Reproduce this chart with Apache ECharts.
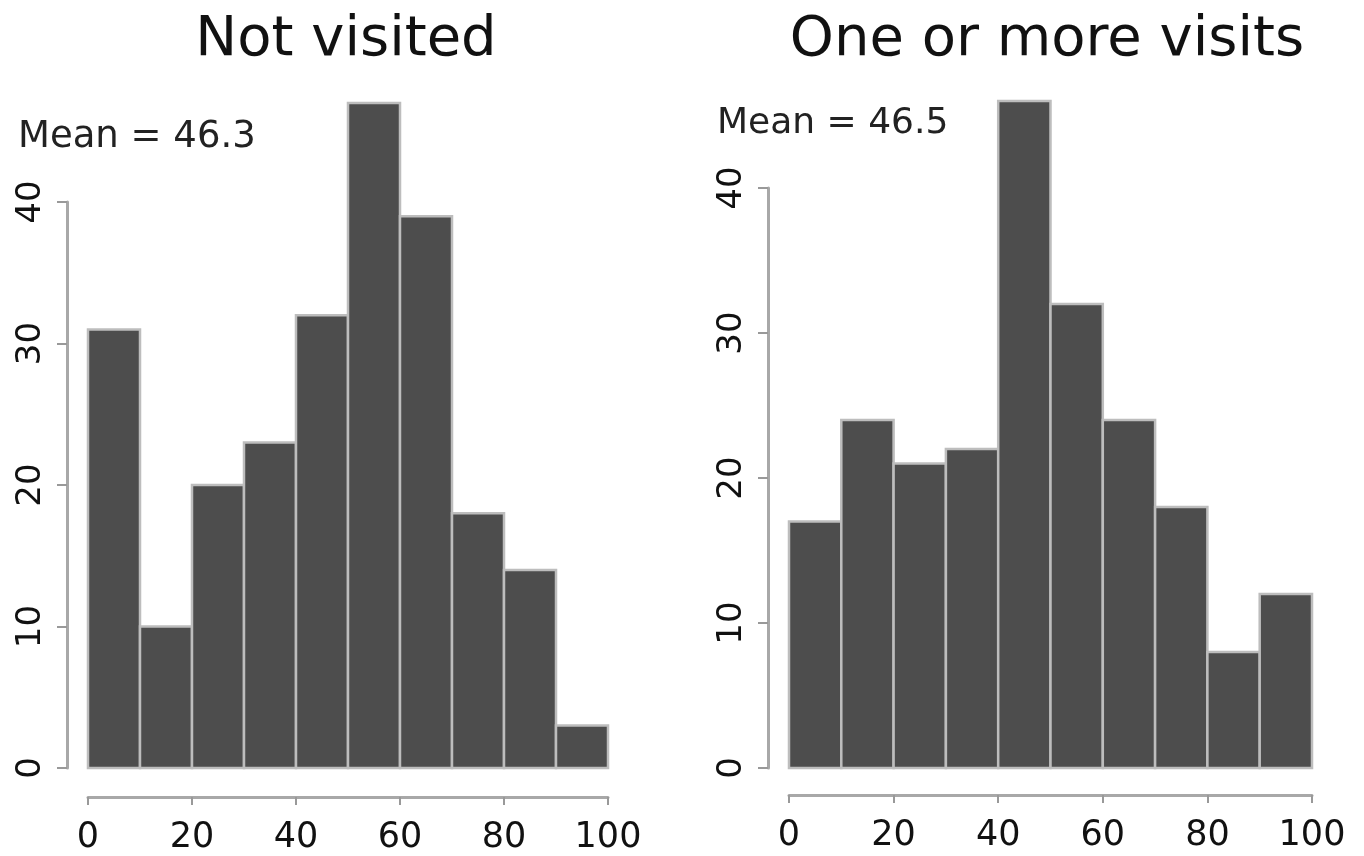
<!DOCTYPE html>
<html>
<head>
<meta charset="utf-8">
<script src="https://cdn.jsdelivr.net/npm/echarts@6/dist/echarts.min.js"></script>
<style>
html,body{margin:0;padding:0;background:#fff;}
#chart{width:1364px;height:856px;}
</style>
</head>
<body>
<div id="chart"></div>
<script>
// ---- data ----
const binEdges = [0, 10, 20, 30, 40, 50, 60, 70, 80, 90, 100];
const notVisitedCounts = [31, 10, 20, 23, 32, 47, 39, 18, 14, 3];
const visitedCounts = [17, 24, 21, 22, 46, 32, 24, 18, 8, 12];
const panelTitles = ['Not visited', 'One or more visits'];
const meanLabels = ['Mean = 46.3', 'Mean = 46.5'];
const xTickValues = [0, 20, 40, 60, 80, 100];
const yTickValues = [0, 10, 20, 30, 40];

// ---- build ----
function toBins(counts) {
  return counts.map((c, i) => [binEdges[i], binEdges[i + 1], c]);
}
const FONT = '"DejaVu Sans", sans-serif';
const AXIS_COLOR = '#a8a8a8';
const TEXT_COLOR = '#111';

function renderBar(params, api) {
  const x0 = api.value(0), x1 = api.value(1), c = api.value(2);
  const p0 = api.coord([x0, 0]);
  const p1 = api.coord([x1, c]);
  return {
    type: 'rect',
    shape: { x: p0[0], y: p1[1], width: p1[0] - p0[0], height: p0[1] - p1[1] },
    style: { fill: '#4d4d4d', stroke: '#bdbdbd', lineWidth: 2.5 }
  };
}

function visibleX(gridIndex, offset) {
  return {
    type: 'value', gridIndex, min: 0, max: 100, interval: 20, offset, position: 'bottom',
    axisLine: { show: true, onZero: false, lineStyle: { color: AXIS_COLOR, width: 3 } },
    axisTick: { show: true, inside: false, length: 8, lineStyle: { color: '#999', width: 2 } },
    axisLabel: { show: true, margin: 23, fontSize: 35, fontFamily: FONT, color: TEXT_COLOR,
      formatter: v => xTickValues.includes(v) ? String(v) : '' },
    splitLine: { show: false }
  };
}
function hiddenX(gridIndex) {
  return { type: 'value', gridIndex, min: 0, max: 100, show: false, splitLine: { show: false } };
}
function hiddenY(gridIndex, max) {
  return { type: 'value', gridIndex, min: 0, max, show: false, splitLine: { show: false } };
}
function visibleY(gridIndex) {
  return {
    type: 'value', gridIndex, min: 0, max: 40, interval: 10, offset: 21, position: 'left',
    axisLine: { show: true, onZero: false, lineStyle: { color: AXIS_COLOR, width: 3 } },
    axisTick: { show: true, inside: false, length: 10, lineStyle: { color: '#999', width: 2 } },
    axisLabel: { show: true, rotate: 90, margin: 19, fontSize: 34, fontFamily: FONT, color: TEXT_COLOR,
      formatter: v => yTickValues.includes(v) ? String(v) : '' },
    splitLine: { show: false }
  };
}

const leftMax = Math.max(...notVisitedCounts);
const rightMax = Math.max(...visitedCounts);

const option = {
  backgroundColor: '#fff',
  animation: false,
  grid: [
    { left: 88, right: 756, top: 103, bottom: 88 },
    { left: 88, right: 756, top: 202, bottom: 88 },
    { left: 789, right: 52, top: 101, bottom: 88 },
    { left: 789, right: 52, top: 188, bottom: 88 }
  ],
  xAxis: [visibleX(0, 29), hiddenX(1), visibleX(2, 27), hiddenX(3)],
  yAxis: [hiddenY(0, leftMax), visibleY(1), hiddenY(2, rightMax), visibleY(3)],
  series: [
    { type: 'custom', xAxisIndex: 0, yAxisIndex: 0, renderItem: renderBar,
      encode: { x: [0, 1], y: 2 }, data: toBins(notVisitedCounts) },
    { type: 'custom', xAxisIndex: 2, yAxisIndex: 2, renderItem: renderBar,
      encode: { x: [0, 1], y: 2 }, data: toBins(visitedCounts) }
  ],
  graphic: [
    { type: 'text', x: 346, y: 40, style: { text: panelTitles[0], font: '56px ' + FONT, fill: TEXT_COLOR, textAlign: 'center', textVerticalAlign: 'middle' } },
    { type: 'text', x: 1047, y: 40, style: { text: panelTitles[1], font: '56px ' + FONT, fill: TEXT_COLOR, textAlign: 'center', textVerticalAlign: 'middle' } },
    { type: 'text', x: 18, y: 137, style: { text: meanLabels[0], font: '37px ' + FONT, fill: '#222', textAlign: 'left', textVerticalAlign: 'middle' } },
    { type: 'text', x: 717, y: 124, style: { text: meanLabels[1], font: '36px ' + FONT, fill: '#222', textAlign: 'left', textVerticalAlign: 'middle' } }
  ]
};

const chart = echarts.init(document.getElementById('chart'), null, { renderer: 'canvas' });
chart.setOption(option);
</script>
</body>
</html>
